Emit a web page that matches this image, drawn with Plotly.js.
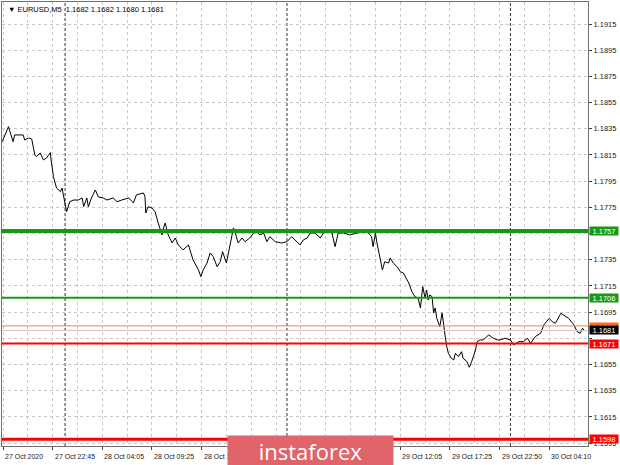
<!DOCTYPE html>
<html>
<head>
<meta charset="utf-8">
<script src="https://cdn.plot.ly/plotly-3.0.1.min.js"></script>
<style>html,body{margin:0;padding:0;background:#fff;}#chart{width:620px;height:465px;}</style>
</head>
<body>
<div id="chart"></div>
<script>
// bar index (M5 bars) of each sampled point
const bars = [
 -1, 7, 13, 15, 26, 28, 33, 37, 41, 43,
 48, 52, 56, 61, 62, 65, 69, 74, 76, 80,
 82, 86, 91, 97, 102, 104, 108, 110, 114, 119,
 123, 129, 134, 142, 147, 153, 162, 168, 172, 181,
 183, 184, 187, 192, 196, 200, 205, 207, 209, 213,
 218, 222, 226, 232, 239, 245, 252, 255, 258, 263,
 267, 271, 276, 280, 283, 288, 293, 297, 299, 303,
 308, 312, 318, 323, 327, 331, 336, 340, 344, 351,
 359, 366, 372, 376, 383, 387, 392, 396, 402, 409,
 413, 419, 424, 428, 432, 439, 447, 456, 467, 471,
 475, 477, 480, 482, 486, 489, 492, 497, 499, 503,
 508, 512, 516, 523, 527, 531, 535, 538, 541, 544,
 546, 548, 550, 553, 555, 557, 559, 563, 566, 568,
 570, 572, 574, 578, 581, 583, 587, 591, 593, 598,
 601, 604, 609, 611, 615, 619, 626, 632, 637, 641,
 647, 654, 658, 665, 671, 676, 680, 686, 693, 697,
 704, 708, 712, 719, 723, 729, 736, 740, 744, 747,
 749
];
const closes = [
 1.18252, 1.18366, 1.18252, 1.18303, 1.18303, 1.18264, 1.18280, 1.18272, 1.18150, 1.18137,
 1.18165, 1.18112, 1.18127, 1.18168, 1.18112, 1.17984, 1.17898, 1.17870, 1.17898, 1.17784,
 1.17717, 1.17793, 1.17806, 1.17806, 1.17822, 1.17755, 1.17822, 1.17755, 1.17822, 1.17883,
 1.17829, 1.17822, 1.17806, 1.17822, 1.17793, 1.17806, 1.17822, 1.17784, 1.17845, 1.17860,
 1.17832, 1.17707, 1.17755, 1.17745, 1.17717, 1.17631, 1.17539, 1.17593, 1.17631, 1.17539,
 1.17478, 1.17516, 1.17463, 1.17425, 1.17463, 1.17348, 1.17272, 1.17221, 1.17272, 1.17325,
 1.17402, 1.17374, 1.17297, 1.17335, 1.17412, 1.17325, 1.17478, 1.17593, 1.17564, 1.17478,
 1.17516, 1.17488, 1.17516, 1.17554, 1.17564, 1.17539, 1.17554, 1.17488, 1.17526, 1.17488,
 1.17478, 1.17488, 1.17526, 1.17501, 1.17463, 1.17501, 1.17516, 1.17554, 1.17554, 1.17516,
 1.17554, 1.17564, 1.17554, 1.17450, 1.17554, 1.17554, 1.17539, 1.17554, 1.17564, 1.17554,
 1.17526, 1.17450, 1.17554, 1.17478, 1.17364, 1.17272, 1.17335, 1.17325, 1.17364, 1.17325,
 1.17297, 1.17259, 1.17249, 1.17173, 1.17106, 1.17068, 1.17058, 1.16982, 1.17145, 1.17058,
 1.17119, 1.17043, 1.17081, 1.17068, 1.16944, 1.16982, 1.16906, 1.16839, 1.16944, 1.16839,
 1.16763, 1.16686, 1.16636, 1.16598, 1.16585, 1.16636, 1.16610, 1.16648, 1.16598, 1.16572,
 1.16529, 1.16572, 1.16661, 1.16725, 1.16738, 1.16738, 1.16776, 1.16751, 1.16738, 1.16738,
 1.16751, 1.16738, 1.16700, 1.16725, 1.16725, 1.16751, 1.16712, 1.16763, 1.16789, 1.16852,
 1.16903, 1.16877, 1.16865, 1.16941, 1.16928, 1.16903, 1.16852, 1.16801, 1.16789, 1.16827,
 1.16810
];
const tickBars = [0, 64, 128, 192, 256, 320, 384, 448, 512, 576, 640, 704];
const tickLabels = ["27 Oct 2020", "27 Oct 22:45", "28 Oct 04:05", "28 Oct 09:25", "28 Oct 14:45",
  "28 Oct 20:05", "29 Oct 01:25", "29 Oct 06:45", "29 Oct 12:05", "29 Oct 17:25", "29 Oct 22:50", "30 Oct 04:10"];
// labels fully hidden behind the banner in the reference
const hiddenLabels = ["28 Oct 20:05", "29 Oct 01:25", "29 Oct 06:45"];
const priceTicks = [1.1595, 1.1615, 1.1635, 1.1655, 1.1675, 1.1695, 1.1715, 1.1735, 1.1755, 1.1775,
  1.1795, 1.1815, 1.1835, 1.1855, 1.1875, 1.1895, 1.1915];
const priceTickLabels = ["1.1595", "1.1615", "1.1635", "1.1655", "", "1.1695", "1.1715", "1.1735", "",
  "1.1775", "1.1795", "1.1815", "1.1835", "1.1855", "1.1875", "1.1895", "1.1915"];
const daySeparators = [80, 366, 654];
const levelValues = [1.1757, 1.1706, 1.16845, 1.1681, 1.1671, 1.1598];
const levelColors = ["#169a16", "#169a16", "#ff8040", "#c8c8c8", "#ff0000", "#ff0000"];
const levelWidths = [4, 2, 1, 1, 2, 3];
const markValues = [1.1757, 1.1706, 1.1684, 1.1681, 1.1671, 1.1598];
const markTexts = ["1.1757", "1.1706", "1.1684", "1.1681", "1.1671", "1.1598"];
const markColors = ["#169a16", "#169a16", "#ff6a1a", "#000000", "#ff0000", "#ff0000"];
const headerText = "▼ EURUSD,M5  1.1682 1.1682 1.1680 1.1681";
const bannerText = "instaforex";

const FONT = "Liberation Sans, Arial, sans-serif";

const shapes = [];
daySeparators.forEach(b => shapes.push({
  type: "line", xref: "x", yref: "paper", x0: b, x1: b, y0: 0, y1: 1,
  line: {color: "#303030", width: 1, dash: "3px,2px"}, layer: "below"
}));
levelValues.forEach((v, i) => shapes.push({
  type: "line", xref: "paper", yref: "y", x0: 0, x1: 1, y0: v, y1: v,
  line: {color: levelColors[i], width: levelWidths[i]}, layer: "above"
}));

const annotations = [];
tickLabels.forEach((t, i) => {
  if (hiddenLabels.includes(t)) return;
  annotations.push({
    xref: "x", yref: "paper", x: tickBars[i], y: -0.024, xanchor: "left", yanchor: "middle",
    text: t, showarrow: false, font: {family: FONT, size: 7, color: "#202020"}
  });
});
markTexts.forEach((t, i) => annotations.push({
  xref: "paper", yref: "y", x: 1, y: markValues[i], xanchor: "left", yanchor: "middle",
  xshift: 1, text: t, showarrow: false, bgcolor: markColors[i], borderpad: 0,
  width: 28, height: 8, font: {family: FONT, size: 7.5, color: "#ffffff"}
}));
annotations.push({
  xref: "paper", yref: "paper", x: 0.006, y: 0.998, xanchor: "left", yanchor: "top",
  text: headerText, showarrow: false, font: {family: FONT, size: 7.5, color: "#000000"}
});
annotations.push({
  xref: "paper", yref: "paper", x: 0.5265, y: -0.0113, xanchor: "center", yanchor: "middle",
  text: bannerText, showarrow: false, bgcolor: "#e0646a", width: 165, height: 30, borderpad: 0,
  font: {family: "Open Sans, sans-serif", size: 22, color: "#ffffff"}
});

const trace = {
  x: bars, y: closes, type: "scatter", mode: "lines",
  line: {color: "#000000", width: 1}, hoverinfo: "skip"
};

const layout = {
  width: 620, height: 465,
  margin: {l: 2, r: 32, t: 2, b: 19},
  paper_bgcolor: "#ffffff", plot_bgcolor: "#ffffff",
  showlegend: false,
  xaxis: {
    range: [-1.3, 754], tickmode: "array", tickvals: tickBars, showticklabels: false,
    ticks: "outside", ticklen: 3, tickcolor: "#404040",
    showgrid: true, gridcolor: "#c8c8c8", griddash: "3px,3px", gridwidth: 1,
    minor: {tickmode: "linear", tick0: 32, dtick: 64, showgrid: true, gridcolor: "#c8c8c8", griddash: "3px,3px", ticks: ""},
    showline: true, mirror: true, linecolor: "#707070", linewidth: 1, zeroline: false, fixedrange: true
  },
  yaxis: {
    range: [1.15928, 1.19318], side: "right", tickmode: "array", tickvals: priceTicks, ticktext: priceTickLabels,
    ticks: "outside", ticklen: 3, tickcolor: "#404040",
    tickfont: {family: FONT, size: 7.5, color: "#202020"},
    showgrid: true, gridcolor: "#c8c8c8", griddash: "3px,3px", gridwidth: 1,
    showline: true, mirror: true, linecolor: "#707070", linewidth: 1, zeroline: false, fixedrange: true
  },
  shapes: shapes,
  annotations: annotations
};

Plotly.newPlot("chart", [trace], layout, {staticPlot: true, displayModeBar: false});
</script>
</body>
</html>
